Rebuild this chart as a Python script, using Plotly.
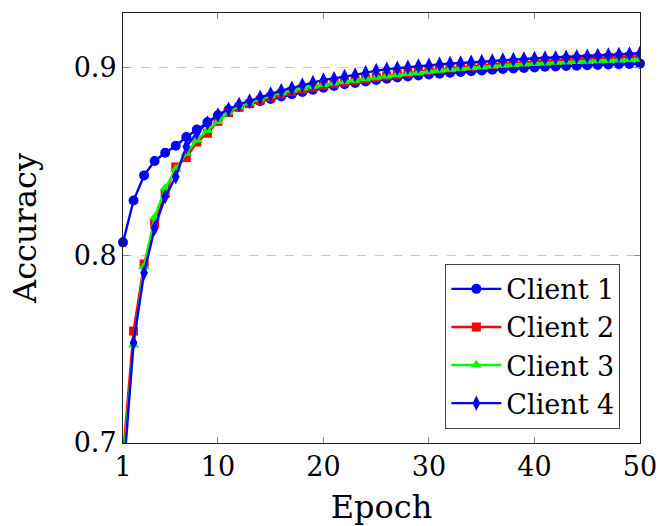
import plotly.graph_objects as go

epochs = list(range(1, 51))

client1 = [0.807, 0.8293, 0.8427, 0.8504, 0.8548, 0.8585, 0.8632, 0.8672, 0.871, 0.8748,
           0.8775, 0.8795, 0.881, 0.8822, 0.8835, 0.8848, 0.886, 0.8872, 0.8884, 0.8894,
           0.8904, 0.8913, 0.892, 0.8928, 0.8936, 0.8943, 0.8949, 0.8955, 0.896, 0.8965,
           0.8969, 0.8974, 0.8978, 0.8982, 0.8986, 0.899, 0.8994, 0.8997, 0.9, 0.9003,
           0.9006, 0.9008, 0.901, 0.9012, 0.9014, 0.9016, 0.9018, 0.902, 0.9021, 0.9023]

client2 = [0.693, 0.7597, 0.7955, 0.8172, 0.8332, 0.8472, 0.8522, 0.8605, 0.8652, 0.8715,
           0.8762, 0.879, 0.881, 0.8828, 0.8845, 0.8862, 0.8875, 0.8888, 0.8899, 0.8909,
           0.8918, 0.8926, 0.8934, 0.8942, 0.895, 0.8958, 0.8966, 0.8973, 0.898, 0.8987,
           0.8993, 0.8999, 0.9004, 0.9009, 0.9014, 0.9019, 0.9023, 0.9027, 0.9031, 0.9035,
           0.9038, 0.9041, 0.9044, 0.9047, 0.905, 0.9053, 0.9055, 0.9058, 0.906, 0.9062]

client3 = [0.688, 0.7523, 0.794, 0.8204, 0.8358, 0.846, 0.8545, 0.8616, 0.8666, 0.8714,
           0.8765, 0.8795, 0.8815, 0.8835, 0.8852, 0.8868, 0.8882, 0.8893, 0.8903, 0.8912,
           0.892, 0.8928, 0.8935, 0.8943, 0.895, 0.8957, 0.8964, 0.897, 0.8976, 0.8982,
           0.8988, 0.8993, 0.8998, 0.9003, 0.9007, 0.9011, 0.9015, 0.9018, 0.9021, 0.9024,
           0.9027, 0.903, 0.9032, 0.9034, 0.9036, 0.9038, 0.904, 0.9042, 0.9044, 0.9046]

client4 = [0.68, 0.7535, 0.7908, 0.8145, 0.8314, 0.842, 0.858, 0.8655, 0.8707, 0.8749,
           0.878, 0.8806, 0.8824, 0.8844, 0.8861, 0.8879, 0.8892, 0.8909, 0.8922, 0.8936,
           0.8943, 0.8954, 0.8963, 0.8975, 0.8986, 0.8993, 0.8998, 0.9004, 0.901, 0.9015,
           0.902, 0.9024, 0.9026, 0.903, 0.9034, 0.9037, 0.9042, 0.9045, 0.9048, 0.9051,
           0.9053, 0.9055, 0.9057, 0.906, 0.9063, 0.9066, 0.9069, 0.9072, 0.9075, 0.9078]

series = [
    ("Client 1", client1, "#0000ff", "circle", 10, False),
    ("Client 2", client2, "#ff0000", "square", 9, True),
    ("Client 3", client3, "#00ff00", "triangle-up", 10, True),
    ("Client 4", client4, "#0000ff", "diamond-tall", 11, True),
]

x_ticks = [1, 10, 20, 30, 40, 50]
y_ticks = [0.7, 0.8, 0.9]

FONT = "DejaVu Serif"
FS = 27

fig = go.Figure()
for name, vals, color, sym, size, clip in series:
    fig.add_trace(go.Scatter(
        x=epochs, y=vals, name=name, mode="lines+markers",
        line=dict(color=color, width=2.4),
        marker=dict(symbol=sym, size=size, color=color, line=dict(width=0)),
        cliponaxis=clip,
    ))

fig.update_layout(
    width=660, height=526,
    margin=dict(l=123, r=20, t=13, b=83),
    paper_bgcolor="white", plot_bgcolor="white",
    font=dict(family=FONT, size=FS, color="black"),
    showlegend=True,
    legend=dict(
        x=0.962, y=0.033, xanchor="right", yanchor="bottom",
        bordercolor="#444", borderwidth=1, bgcolor="white",
        font=dict(family=FONT, size=FS),
        tracegroupgap=0, itemwidth=50,
    ),
)

fig.update_xaxes(
    range=[1, 50], tickvals=x_ticks, ticktext=[str(t) for t in x_ticks],
    showline=True, linecolor="#222", linewidth=1, mirror="ticks",
    ticks="inside", ticklen=6, tickcolor="#888", tickwidth=1,
    showgrid=False, zeroline=False, automargin=False,
    title=dict(text="Epoch", standoff=14),
    tickfont=dict(family=FONT, size=FS),
)
fig.update_yaxes(
    range=[0.7, 0.9293], tickvals=y_ticks, ticktext=["0.7", "0.8", "0.9"],
    showline=True, linecolor="#222", linewidth=1, mirror="ticks",
    ticks="inside", ticklen=6, tickcolor="#888", tickwidth=1,
    showgrid=True, gridcolor="#c8c8c8", gridwidth=1, griddash="dash",
    zeroline=False, automargin=False,
    title=dict(text="Accuracy", standoff=27),
    tickfont=dict(family=FONT, size=FS),
)

fig.write_html("out.html", config={"displayModeBar": False},
               post_script="document.body.style.margin='0px';")
